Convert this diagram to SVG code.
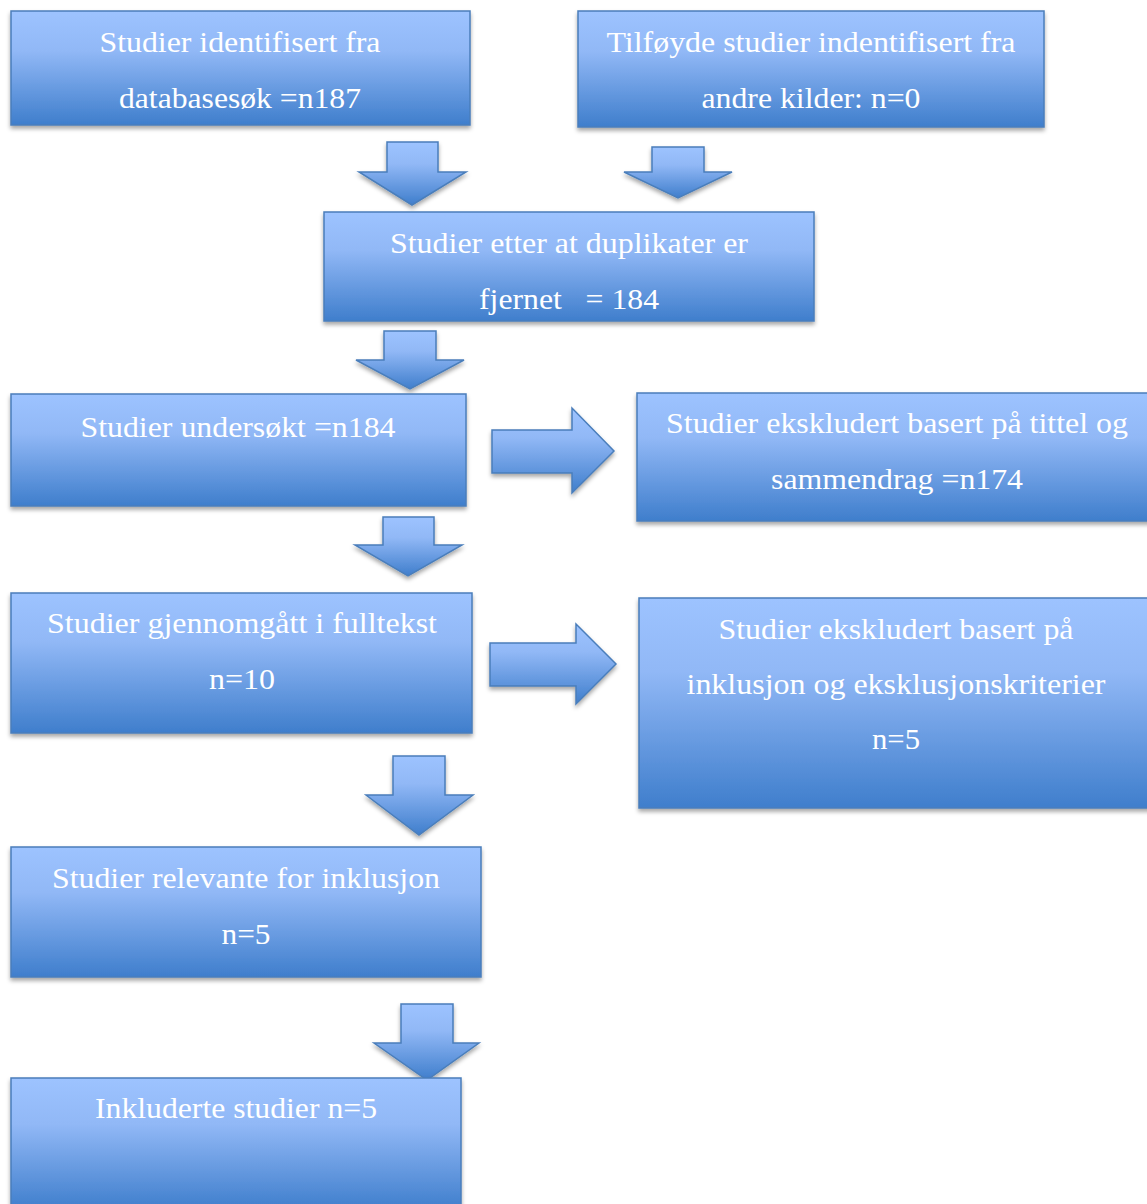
<svg xmlns="http://www.w3.org/2000/svg" width="1147" height="1204" viewBox="0 0 1147 1204">
<defs>
<linearGradient id="g" x1="0" y1="0" x2="0" y2="1">
<stop offset="0" stop-color="#9DC3FF"/>
<stop offset="0.35" stop-color="#91B8F6"/>
<stop offset="1" stop-color="#3F7ECC"/>
</linearGradient>
<filter id="sh" x="-5%" y="-5%" width="115%" height="125%">
<feDropShadow dx="0" dy="3" stdDeviation="2" flood-color="#000" flood-opacity="0.35"/>
</filter>
</defs>
<style>
.box{fill:url(#g);stroke:#4A7EBB;stroke-width:1.5;filter:url(#sh)}
.arr{fill:url(#g);stroke:#4A7EBB;stroke-width:1.5;stroke-linejoin:miter;filter:url(#sh)}
text{font-family:"Liberation Serif","Times New Roman",serif;font-size:29px;fill:#ffffff;text-anchor:middle;white-space:pre}
</style>
<rect width="1147" height="1204" fill="#ffffff"/>
<g id="connectors">
<polygon class="arr" points="387,142 438,142 438,172 466,172 412,205 359,172 387,172"/>
<polygon class="arr" points="652,147 704,147 704,172 732,172 678,198 624,172 652,172"/>
<polygon class="arr" points="384,331 436,331 436,360 464,360 410,389 356,360 384,360"/>
<polygon class="arr" points="492,430 572,430 572,408 614,451 572,493 572,473 492,473"/>
<polygon class="arr" points="383,517 434,517 434,545 462,545 408,576 355,545 383,545"/>
<polygon class="arr" points="490,643 576,643 576,624 616,664 576,704 576,686 490,686"/>
<polygon class="arr" points="393,756 445,756 445,795 473,795 419,835 366,795 393,795"/>
<polygon class="arr" points="401,1004 453,1004 453,1043 479,1043 427,1080 374,1043 401,1043"/>
</g>
<g id="n1"><rect class="box" x="11" y="11" width="459" height="114"/>
<text x="240" y="52" textLength="281" lengthAdjust="spacingAndGlyphs">Studier identifisert fra</text><text x="240" y="108" textLength="242" lengthAdjust="spacingAndGlyphs">databasesøk =n187</text></g>
<g id="n2"><rect class="box" x="578" y="11" width="466" height="116"/>
<text x="811" y="52" textLength="409" lengthAdjust="spacingAndGlyphs">Tilføyde studier indentifisert fra</text><text x="811" y="108" textLength="219" lengthAdjust="spacingAndGlyphs">andre kilder: n=0</text></g>
<g id="n3"><rect class="box" x="324" y="212" width="490" height="109"/>
<text x="569" y="253" textLength="358" lengthAdjust="spacingAndGlyphs">Studier etter at duplikater er</text><text x="569" y="309" textLength="180" lengthAdjust="spacingAndGlyphs">fjernet   = 184</text></g>
<g id="n4"><rect class="box" x="11" y="394" width="455" height="112"/>
<text x="238" y="437" textLength="315" lengthAdjust="spacingAndGlyphs">Studier undersøkt =n184</text></g>
<g id="n5"><rect class="box" x="637" y="393" width="515" height="128"/>
<text x="897" y="433" textLength="462" lengthAdjust="spacingAndGlyphs">Studier ekskludert basert på tittel og</text><text x="897" y="489" textLength="252" lengthAdjust="spacingAndGlyphs">sammendrag =n174</text></g>
<g id="n6"><rect class="box" x="11" y="593" width="461" height="140"/>
<text x="242" y="633" textLength="390" lengthAdjust="spacingAndGlyphs">Studier gjennomgått i fulltekst</text><text x="242" y="689" textLength="66" lengthAdjust="spacingAndGlyphs">n=10</text></g>
<g id="n7"><rect class="box" x="639" y="598" width="513" height="210"/>
<text x="896" y="639" textLength="355" lengthAdjust="spacingAndGlyphs">Studier ekskludert basert på</text><text x="896" y="694" textLength="419" lengthAdjust="spacingAndGlyphs">inklusjon og eksklusjonskriterier</text><text x="896" y="749" textLength="48" lengthAdjust="spacingAndGlyphs">n=5</text></g>
<g id="n8"><rect class="box" x="11" y="847" width="470" height="130"/>
<text x="246" y="888" textLength="388" lengthAdjust="spacingAndGlyphs">Studier relevante for inklusjon</text><text x="246" y="944" textLength="49" lengthAdjust="spacingAndGlyphs">n=5</text></g>
<g id="n9"><rect class="box" x="11" y="1078" width="450" height="132"/>
<text x="236" y="1118" textLength="282" lengthAdjust="spacingAndGlyphs">Inkluderte studier n=5</text></g>
</svg>
